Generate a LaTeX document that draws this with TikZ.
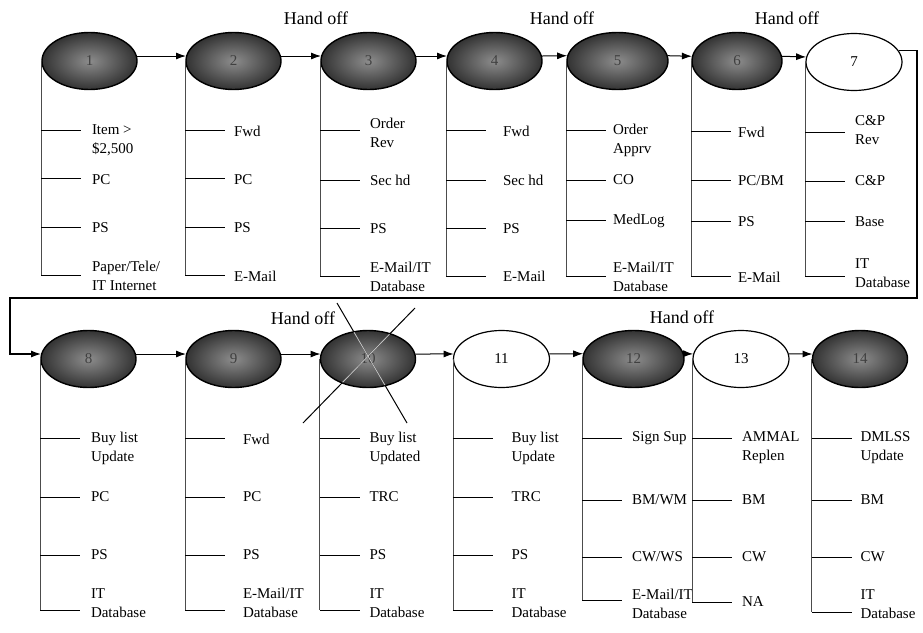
\documentclass[tikz,border=0pt]{standalone}
\usepackage{fontspec}
\setmainfont{Liberation Serif}
\usetikzlibrary{calc,shapes.geometric,arrows.meta}
\newcommand{\taskcolumn}[4]{%
  \draw[rail] (#1.west) -- (#1.west |- 0,#3);
  \foreach \ty/\cy/\txt [count=\k] in {#4} {
    \draw[tickline] (#1.west |- 0,\ty) -- ++(40,0);
    \node[itemtext] (#1-\k) at ($(#1.west |- 0,\cy)+(#2,0)$) {\txt};
  }
}

\begin{document}
\begin{tikzpicture}[x=1pt,y=-1pt]
  \tikzset{every node/.style={inner sep=0.5pt},font={\fontsize{15}{19}\selectfont}}
  \tikzstyle{task}=[ellipse,draw=black,line width=1.4pt,minimum width=95pt,minimum height=57pt,shading=radial,inner color=black!45,outer color=black!80,text=black!75]
  \tikzstyle{taskopen}=[ellipse,draw=black,line width=1.2pt,minimum width=96pt,minimum height=57pt,fill=white]
  \tikzstyle{rail}=[line width=0.8pt,black!70]
  \tikzstyle{tickline}=[line width=0.9pt]
  \tikzstyle{itemtext}=[anchor=west,align=left]
  \tikzstyle{flow}=[line width=1pt,->,>={Latex[length=10pt,width=7pt]}]
  \tikzstyle{handoff}=[font={\fontsize{18}{21}\selectfont}]

  \useasboundingbox (0,0) rectangle (923,632);

  % first row of steps
  \node[task] (e1) at (89.5,61) {1};
  \node[task] (e2) at (233.5,61) {2};
  \node[task] (e3) at (368.5,61) {3};
  \node[task] (e4) at (494.5,61) {4};
  \node[task,minimum width=101pt] (e5) at (617.5,61) {5};
  \node[task,minimum width=90pt] (e6) at (737,61) {6};
  \node[taskopen] (e7) at (854,62) {7};

  % second row of steps
  \node[task] (e8) at (88.5,359) {8};
  \node[task] (e9) at (233.5,359) {9};
  \node[task] (e10) at (368,359) {10};
  \node[taskopen] (e11) at (501.5,359) {11};
  \node[task,minimum width=101pt] (e12) at (633.5,359) {12};
  \node[taskopen] (e13) at (741,359) {13};
  \node[task] (e14) at (860,359) {14};

  % flow between steps
  \foreach \a/\b in {e1/e2,e2/e3,e3/e4,e4/e5,e5/e6,e6/e7,e8/e9,e9/e10,e10/e11,e11/e12,e12/e13,e13/e14}
    \draw[flow] (\a.6) -- (\b.174);
  \coordinate (turnR) at (917,298);
  \coordinate (turnL) at (10,298);
  \draw[flow,line width=1.2pt] (e7.14) -| (turnR) -- (turnL) |- (e8.174);

  % hand offs
  \node[handoff] (h1) at (316,18) {Hand off};
  \node[handoff] (h2) at (562,18) {Hand off};
  \node[handoff] (h3) at (787,18) {Hand off};
  \node[handoff] (h4) at (303,318) {Hand off};
  \node[handoff] (h5) at (682,317) {Hand off};

  % resources of each step
  \taskcolumn{e1}{50}{275}{130/140/{Item >\\\$2,500}, 178/180/PC, 227/228/PS, 275/276/{Paper/Tele/\\IT Internet}}
  \taskcolumn{e2}{48}{275}{130/131/Fwd, 178/180/PC, 227/228/PS, 275/276/E-Mail}
  \taskcolumn{e3}{49}{276}{130/133/{Order\\Rev}, 180/180/Sec hd, 228/229/PS, 276/277/{E-Mail/IT\\Database}}
  \taskcolumn{e4}{56}{276}{130/131/Fwd, 180/180/Sec hd, 228/229/PS, 276/276/E-Mail}
  \taskcolumn{e5}{46}{276}{130/140/{Order\\Apprv}, 180/180/CO, 220/221/MedLog, 276/277/{E-Mail/IT\\Database}}
  \taskcolumn{e6}{46}{276}{131/132/Fwd, 180/181/{PC/BM}, 221/222/PS, 276/277/E-Mail}
  \taskcolumn{e7}{49}{276}{132/130/{C\&P\\Rev}, 181/181/C\&P, 221/222/Base, 276/273/{IT\\Database}}

  \taskcolumn{e8}{50}{610}{438/448/{Buy list\\Update}, 497/497/PC, 555/555/PS, 610/603/{IT\\Database}}
  \taskcolumn{e9}{57}{610}{438/439/Fwd, 497/497/PC, 555/555/PS, 610/603/{E-Mail/IT\\Database}}
  \taskcolumn{e10}{49}{610}{438/448/{Buy list\\Updated}, 497/497/TRC, 555/555/PS, 610/603/{IT\\Database}}
  \taskcolumn{e11}{58}{610}{438/448/{Buy list\\Update}, 497/497/TRC, 555/555/PS, 610/603/{IT\\Database}}
  \taskcolumn{e12}{49}{600}{438/438/Sign Sup, 500/500/{BM/WM}, 557/557/{CW/WS}, 600/604/{E-Mail/IT\\Database}}
  \taskcolumn{e13}{49}{602}{438/448/{AMMAL\\Replen}, 500/500/BM, 557/557/CW, 602/602/NA}
  \taskcolumn{e14}{48}{612}{438/448/{DMLSS\\Update}, 500/500/BM, 557/557/CW, 612/604/{IT\\Database}}

  % step 10 crossed out
  \coordinate (xa1) at (337,303);
  \coordinate (xa2) at (407,423);
  \coordinate (xb1) at (415,308);
  \coordinate (xb2) at (303,423);
  \draw[line width=1pt] (xa1) -- (xa2) (xb1) -- (xb2);
  \begin{scope}
    \clip (e10.center) ellipse [x radius=46pt, y radius=28pt];
    \draw[line width=1pt,black!25] (xa1) -- (xa2) (xb1) -- (xb2);
  \end{scope}

\end{tikzpicture}
\end{document}
